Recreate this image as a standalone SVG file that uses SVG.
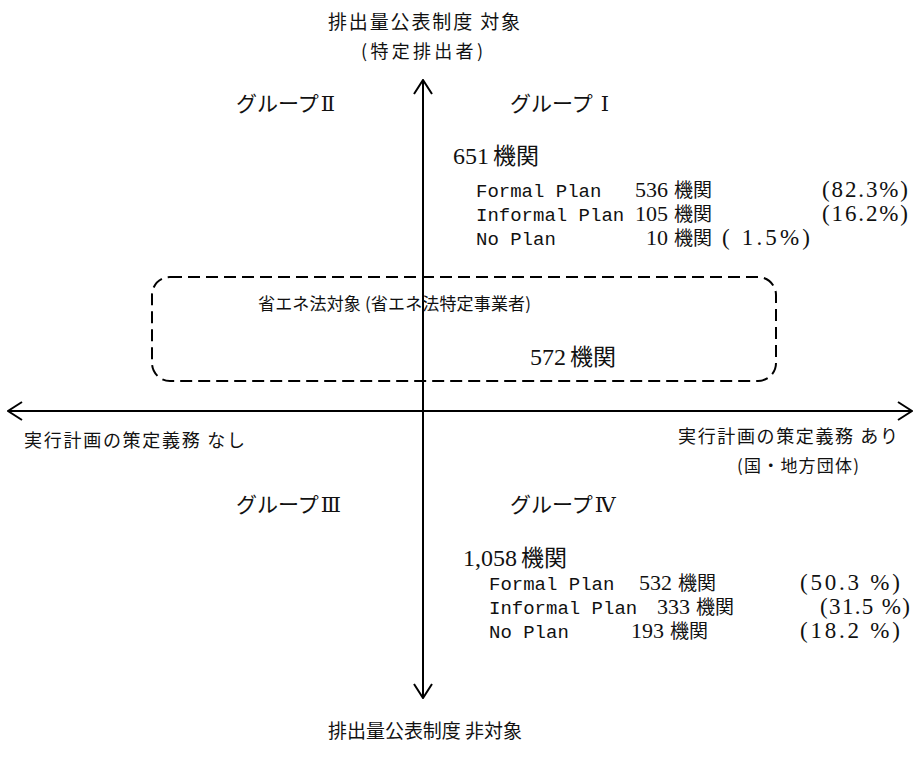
<svg xmlns="http://www.w3.org/2000/svg" width="915" height="764" viewBox="0 0 915 764">
<defs>
<marker id="arr" viewBox="0 0 16 20" refX="15" refY="10" markerWidth="16" markerHeight="20" markerUnits="userSpaceOnUse" orient="auto-start-reverse">
<path d="M1,1 L15,10 L1,19" fill="none" stroke="#000" stroke-width="2"/>
</marker>
</defs>
<style>
text{fill:#111}
.jp{font-family:"Noto Sans CJK JP","Noto Sans",sans-serif}
.grp{font-family:"Noto Sans CJK JP",sans-serif;font-size:21px}
.rn{font-family:"DejaVu Serif","Liberation Serif","Noto Sans CJK JP",serif;font-size:21px}
.num{font-family:"Liberation Serif","Noto Sans CJK JP",serif}
.mono{font-family:"Liberation Mono",monospace;font-size:19px}
.n{font-family:"Liberation Serif",serif;font-size:22px;text-anchor:end}
.kk{font-family:"Noto Sans CJK JP",sans-serif;font-size:19px}
.pct{font-family:"Liberation Serif",serif;font-size:23px}
.axis{stroke:#000;stroke-width:2;fill:none}
</style>
<rect width="915" height="764" fill="#fff"/>
<g id="connectors">
<line class="axis" x1="423" y1="698" x2="423" y2="80" marker-start="url(#arr)" marker-end="url(#arr)"/>
<line class="axis" x1="8" y1="411" x2="912" y2="411" marker-start="url(#arr)" marker-end="url(#arr)"/>
</g>
<g id="axis-top">
<text class="jp" x="328" y="29" font-size="19" textLength="192">排出量公表制度 対象</text>
<text class="jp" x="361" y="58" font-size="18" textLength="122">(特定排出者)</text>
</g>
<g id="axis-bottom">
<text class="jp" x="328" y="738" font-size="19" textLength="194">排出量公表制度 非対象</text>
</g>
<g id="axis-left">
<text class="jp" x="24" y="447" font-size="18" textLength="221">実行計画の策定義務 なし</text>
</g>
<g id="axis-right">
<text class="jp" x="678" y="443" font-size="18" textLength="220">実行計画の策定義務 あり</text>
<text class="jp" x="737" y="472" font-size="17" textLength="122">(国・地方団体)</text>
</g>
<g id="group2">
<text x="236" y="111"><tspan class="grp">グループ</tspan><tspan class="rn" dx="2">Ⅱ</tspan></text>
</g>
<g id="group1">
<text x="510" y="111"><tspan class="grp">グループ</tspan><tspan class="rn" dx="8">Ⅰ</tspan></text>
<text x="453" y="164"><tspan class="num" font-size="24">651</tspan><tspan class="jp" font-size="23" dx="4">機関</tspan></text>
<text y="197"><tspan class="mono" x="476">Formal Plan</tspan><tspan class="n" x="668">536</tspan><tspan class="kk" x="674">機関</tspan><tspan class="pct" x="822" textLength="86">(82.3%)</tspan></text>
<text y="221"><tspan class="mono" x="476">Informal Plan</tspan><tspan class="n" x="668">105</tspan><tspan class="kk" x="674">機関</tspan><tspan class="pct" x="822" textLength="86">(16.2%)</tspan></text>
<text y="245"><tspan class="mono" x="476">No Plan</tspan><tspan class="n" x="668">10</tspan><tspan class="kk" x="674">機関</tspan><tspan class="pct" x="722" textLength="88">( 1.5%)</tspan></text>
</g>
<g id="energy-law">
<rect x="152" y="277" width="624" height="104" rx="18" ry="18" fill="none" stroke="#000" stroke-width="2" stroke-dasharray="12 6"/>
<text class="jp" x="258" y="310" font-size="17" textLength="273">省エネ法対象 (省エネ法特定事業者)</text>
<text x="530" y="365"><tspan class="num" font-size="24">572</tspan><tspan class="jp" font-size="23" dx="4">機関</tspan></text>
</g>
<g id="group3">
<text x="236" y="512"><tspan class="grp">グループ</tspan><tspan class="rn" dx="2">Ⅲ</tspan></text>
</g>
<g id="group4">
<text x="510" y="512"><tspan class="grp">グループ</tspan><tspan class="rn" dx="2">Ⅳ</tspan></text>
<text x="463" y="566"><tspan class="num" font-size="24">1,058</tspan><tspan class="jp" font-size="23" dx="4">機関</tspan></text>
<text y="590"><tspan class="mono" x="489">Formal Plan</tspan><tspan class="n" x="672">532</tspan><tspan class="kk" x="678">機関</tspan><tspan class="pct" x="800" textLength="100">(50.3 %)</tspan></text>
<text y="614"><tspan class="mono" x="489">Informal Plan</tspan><tspan class="n" x="690">333</tspan><tspan class="kk" x="696">機関</tspan><tspan class="pct" x="820" textLength="90">(31.5 %)</tspan></text>
<text y="638"><tspan class="mono" x="489">No Plan</tspan><tspan class="n" x="664">193</tspan><tspan class="kk" x="670">機関</tspan><tspan class="pct" x="800" textLength="100">(18.2 %)</tspan></text>
</g>
</svg>
